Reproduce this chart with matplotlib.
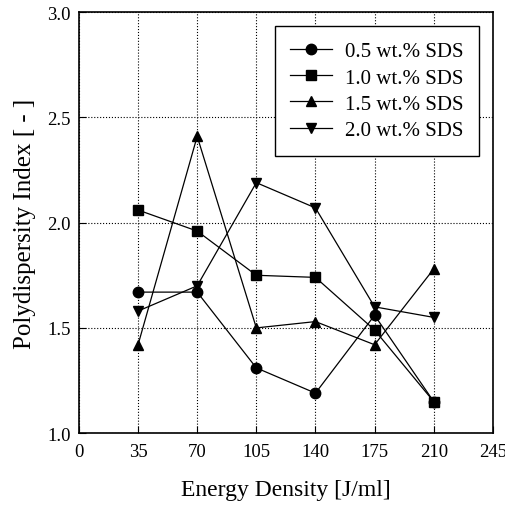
import matplotlib
matplotlib.use("Agg")
import matplotlib.pyplot as plt

plt.rcParams['font.family'] = ['Liberation Serif', 'DejaVu Serif']

energy = [35, 70, 105, 140, 175, 210]
sds_05 = [1.67, 1.67, 1.31, 1.19, 1.56, 1.15]
sds_10 = [2.06, 1.96, 1.75, 1.74, 1.49, 1.15]
sds_15 = [1.42, 2.41, 1.50, 1.53, 1.42, 1.78]
sds_20 = [1.58, 1.70, 2.19, 2.07, 1.60, 1.55]

fig = plt.figure(figsize=(5.06, 5.06), dpi=100)
ax = fig.add_axes([0.156, 0.142, 0.818, 0.832])

kw = dict(color='black', linewidth=0.9, markersize=7.5)
ax.plot(energy, sds_05, marker='o', label='0.5 wt.% SDS', **kw)
ax.plot(energy, sds_10, marker='s', label='1.0 wt.% SDS', **kw)
ax.plot(energy, sds_15, marker='^', label='1.5 wt.% SDS', **kw)
ax.plot(energy, sds_20, marker='v', label='2.0 wt.% SDS', **kw)

ax.set_xlim(0, 245)
ax.set_ylim(1.0, 3.0)
ax.set_xticks(range(0, 246, 35))
ax.set_yticks([1.0, 1.5, 2.0, 2.5, 3.0])
ax.set_yticklabels(['1.0', '1.5', '2.0', '2.5', '3.0'])
ax.grid(True, linestyle=':', color='black', linewidth=0.8)
ax.tick_params(direction='in', labelsize=13.5, length=5, top=False, right=False)
ax.tick_params(axis='x', pad=7)
ax.tick_params(axis='y', pad=6)
for s in ax.spines.values():
    s.set_linewidth(1.2)

ax.set_xlabel('Energy Density [J/ml]', fontsize=17, labelpad=14)
ax.set_ylabel('Polydispersity Index [ - ]', fontsize=18, labelpad=8)

leg = ax.legend(loc='upper right', fontsize=15, fancybox=False, framealpha=1,
                edgecolor='black', handlelength=2.0, borderpad=0.75,
                labelspacing=0.32, handletextpad=0.6, borderaxespad=0,
                bbox_to_anchor=(0.966, 0.967))
leg.get_frame().set_linewidth(1.0)

fig.savefig('out.png', dpi=100)
